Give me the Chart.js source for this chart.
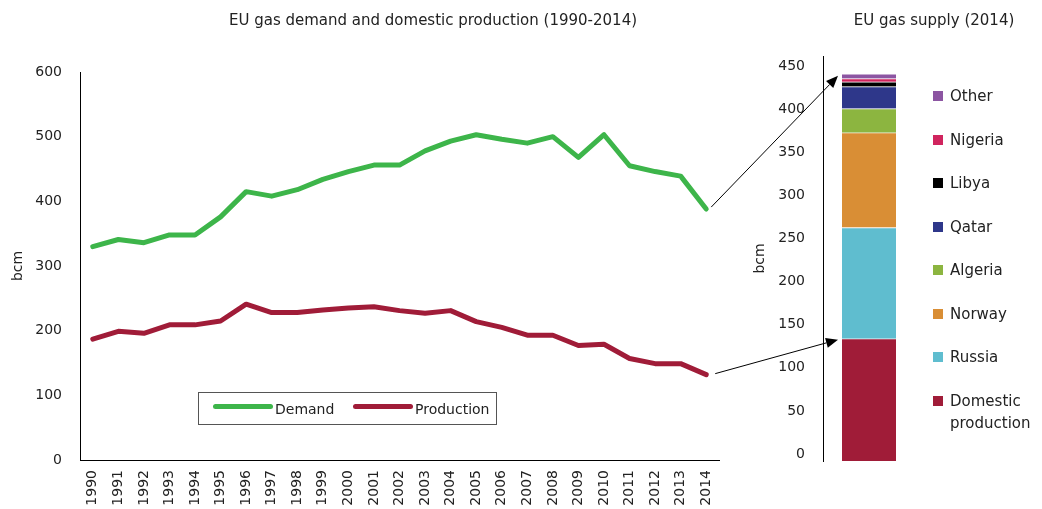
<!DOCTYPE html>
<html>
<head>
<meta charset="utf-8">
<script src="https://cdn.jsdelivr.net/npm/chart.js@4.4.1/dist/chart.umd.min.js"></script>
<style>
  body { margin: 0; background: #fff; font-family: 'DejaVu Sans', sans-serif; color: #222; }
  #wrap { position: relative; width: 1042px; height: 509px; overflow: hidden; }
  #c1 { position: absolute; left: 0; top: 0; }
  #c2 { position: absolute; left: 740px; top: 0; }
  #arrows { position: absolute; left: 0; top: 0; pointer-events: none; }
  .title { position: absolute; top: 11px; font-size: 15px; white-space: nowrap; transform: translateX(-50%); }
  #legend1 { position: absolute; left: 198px; top: 392px; width: 297px; height: 31px; border: 1px solid #555; font-size: 14px; }
  #legend1 .ln { position: absolute; top: 11px; width: 60px; height: 5px; border-radius: 3px; }
  #legend1 .tx { position: absolute; top: 0; white-space: nowrap; }
  #legend2 { position: absolute; left: 933px; top: 0; font-size: 15px; }
  #legend2 .sq { position: absolute; left: 0; width: 10px; height: 10px; }
  #legend2 .tx { position: absolute; left: 17px; white-space: nowrap; line-height: 22px; }
</style>
</head>
<body>
<div id="wrap">
  <canvas id="c1" width="740" height="509"></canvas>
  <canvas id="c2" width="185" height="509"></canvas>
  <canvas id="arrows" width="1042" height="509"></canvas>
  <div class="title" style="left:433px">EU gas demand and domestic production (1990-2014)</div>
  <div class="title" style="left:934px">EU gas supply (2014)</div>
  <div id="legend1"></div>
  <div id="legend2"></div>
</div>
<script>
// left chart: EU gas demand and domestic production, bcm
const years = ['1990', '1991', '1992', '1993', '1994', '1995', '1996', '1997', '1998', '1999', '2000', '2001', '2002',
  '2003', '2004', '2005', '2006', '2007', '2008', '2009', '2010', '2011', '2012', '2013', '2014'];
const demand = [330, 341, 336, 348, 348, 376, 415, 408, 418, 434, 446, 456, 456,
  478, 493, 503, 496, 490, 500, 468, 503, 455, 446, 439, 388];
const production = [187, 199, 196, 209, 209, 215, 241, 228, 228, 232, 235, 237, 231,
  227, 231, 214, 205, 193, 193, 177, 179, 157, 149, 149, 132];

// right chart: EU gas supply 2014, bcm
const sources = ['Domestic production', 'Russia', 'Norway', 'Algeria', 'Qatar', 'Libya', 'Nigeria', 'Other'];
const supply = [142, 129, 110, 28, 25.5, 5.5, 3.8, 5.5];
const sourceColors = ['#a01c38', '#5fbdcf', '#d98e35', '#8cb540', '#2e378a', '#000000', '#d0245e', '#8c55a2'];

const GREEN = '#3db54a';
const RED = '#a01c38';
const FONT = "'DejaVu Sans', sans-serif";
Chart.defaults.font.family = FONT;
Chart.defaults.color = '#222';
Chart.defaults.animation = false;

const chart1 = new Chart(document.getElementById('c1'), {
  type: 'line',
  data: {
    labels: years,
    datasets: [
      { label: 'Demand', data: demand, borderColor: GREEN, borderWidth: 5, pointRadius: 0, borderCapStyle: 'round', borderJoinStyle: 'round', tension: 0 },
      { label: 'Production', data: production, borderColor: RED, borderWidth: 5, pointRadius: 0, borderCapStyle: 'round', borderJoinStyle: 'round', tension: 0 }
    ]
  },
  options: {
    responsive: false,
    layout: { padding: { top: 72, right: 21, left: 0, bottom: 0 } },
    plugins: { legend: { display: false }, tooltip: { enabled: false } },
    scales: {
      x: {
        offset: true,
        grid: { display: false, drawTicks: false },
        border: { display: true, color: '#000', width: 1 },
        ticks: { minRotation: 90, maxRotation: 90, padding: 10, font: { size: 14 }, color: '#222', autoSkip: false },
        afterFit: s => { s.height = 49; }
      },
      y: {
        min: 0, max: 600,
        grid: { display: false, drawTicks: false },
        border: { display: true, color: '#000', width: 1 },
        ticks: { stepSize: 100, padding: 18, font: { size: 14 }, color: '#222' },
        title: { display: true, text: 'bcm', font: { size: 14 }, color: '#222', padding: { top: 10, bottom: 0 } },
        afterFit: s => { s.width = 80; }
      }
    }
  }
});

const chart2 = new Chart(document.getElementById('c2'), {
  type: 'bar',
  data: {
    labels: ['2014'],
    datasets: sources.map((name, i) => ({
      label: name,
      data: [supply[i]],
      backgroundColor: sourceColors[i],
      borderColor: 'rgba(255,255,255,0.45)',
      borderWidth: { top: 1 },
      borderSkipped: false,
      barThickness: 54
    }))
  },
  options: {
    responsive: false,
    layout: { padding: { top: 56, right: 10, left: 0, bottom: 48 } },
    plugins: { legend: { display: false }, tooltip: { enabled: false } },
    scales: {
      x: { stacked: true, display: false },
      y: {
        stacked: true,
        min: 0, max: 470,
        grid: { display: false, drawTicks: false },
        border: { display: true, color: '#000', width: 1 },
        ticks: {
          stepSize: 50, padding: 18, labelOffset: -7, font: { size: 14 }, color: '#222',
          callback: v => (v % 50 === 0 ? v : null)
        },
        title: { display: true, text: 'bcm', font: { size: 14 }, color: '#222', padding: { top: 12, bottom: 0 } },
        afterFit: s => { s.width = 83; }
      }
    }
  }
});

// legends
const leg1 = document.getElementById('legend1');
leg1.innerHTML =
  `<div class="ln" style="left:14px;background:${GREEN}"></div><div class="tx" style="left:76px;top:8px">Demand</div>` +
  `<div class="ln" style="left:154px;background:${RED}"></div><div class="tx" style="left:216px;top:8px">Production</div>`;

const leg2 = document.getElementById('legend2');
const order = sources.slice().reverse();
const colorsRev = sourceColors.slice().reverse();
let html = '';
order.forEach((name, i) => {
  const cy = 96 + i * 43.5;
  html += `<div class="sq" style="top:${cy - 5}px;background:${colorsRev[i]}"></div>`;
  if (name === 'Domestic production') {
    html += `<div class="tx" style="top:${cy - 11}px">Domestic<br>production</div>`;
  } else {
    html += `<div class="tx" style="top:${cy - 11}px">${name}</div>`;
  }
});
leg2.innerHTML = html;

// arrows from the 2014 line ends to the bar
function arrow(ctx, x1, y1, x2, y2) {
  const a = Math.atan2(y2 - y1, x2 - x1);
  const len = 12, hw = 5;
  const bx = x2 - len * Math.cos(a), by = y2 - len * Math.sin(a);
  ctx.beginPath();
  ctx.moveTo(x1, y1);
  ctx.lineTo(bx, by);
  ctx.stroke();
  ctx.beginPath();
  ctx.moveTo(x2, y2);
  ctx.lineTo(bx + hw * Math.sin(a), by - hw * Math.cos(a));
  ctx.lineTo(bx - hw * Math.sin(a), by + hw * Math.cos(a));
  ctx.closePath();
  ctx.fill();
}

const ax = document.getElementById('arrows').getContext('2d');
ax.strokeStyle = '#000';
ax.fillStyle = '#000';
ax.lineWidth = 1;
const last = years.length - 1;
const px = chart1.scales.x.getPixelForValue(last);
const bar = chart2.getDatasetMeta(0).data[0];
const barLeft = 740 + bar.x - bar.width / 2;
const total = supply.reduce((a, b) => a + b, 0);
const yTop = chart2.scales.y.getPixelForValue(total);
const yDom = chart2.scales.y.getPixelForValue(supply[0]);
const yDem = chart1.scales.y.getPixelForValue(demand[last]);
const yProd = chart1.scales.y.getPixelForValue(production[last]);
arrow(ax, px + 5, yDem - 2, barLeft - 4, yTop + 2);
arrow(ax, px + 9, yProd - 1, barLeft - 4, yDom + 1);
</script>
</body>
</html>
